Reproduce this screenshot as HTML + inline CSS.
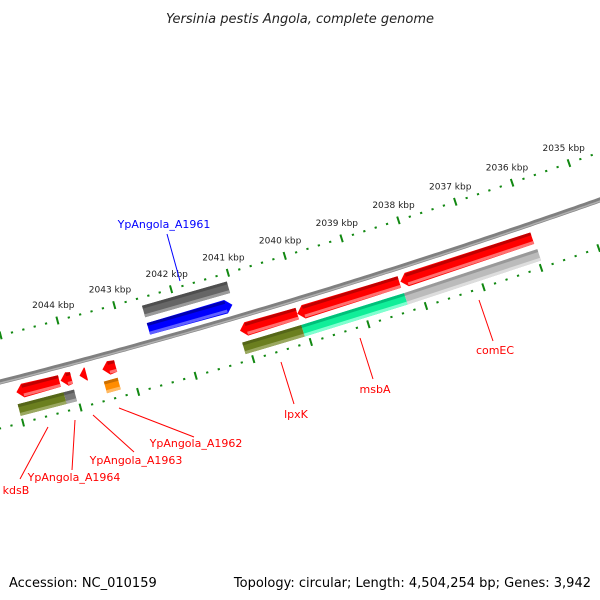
<!DOCTYPE html>
<html><head><meta charset="utf-8"><style>
body{margin:0;background:#fff}
svg{display:block;font-family:"DejaVu Sans","Liberation Sans",sans-serif}
</style></head><body>
<svg id="map" width="600" height="600" viewBox="0 0 600 600" xmlns="http://www.w3.org/2000/svg">
<rect width="600" height="600" fill="#fff"/>
<text x="300" y="23" text-anchor="middle" font-size="13" font-style="italic" fill="#222">Yersinia pestis Angola, complete genome</text>
<text x="9" y="587" font-size="13" fill="#000">Accession: NC_010159</text>
<text x="591" y="587" text-anchor="end" font-size="13" fill="#000">Topology: circular; Length: 4,504,254 bp; Genes: 3,942</text>
<g id="ticks"></g>
<g id="backbone"></g>
<g id="features"></g>
<g id="annots" font-size="11">
<line x1="167" y1="234" x2="180" y2="281" stroke="#00f"/>
<text x="164" y="228" text-anchor="middle" fill="#00f">YpAngola_A1961</text>
<line x1="281" y1="362" x2="294" y2="404" stroke="#f00"/>
<text x="296" y="418" text-anchor="middle" fill="#f00">lpxK</text>
<line x1="360" y1="338" x2="373" y2="379" stroke="#f00"/>
<text x="375" y="393" text-anchor="middle" fill="#f00">msbA</text>
<line x1="479" y1="300" x2="493" y2="341" stroke="#f00"/>
<text x="495" y="354" text-anchor="middle" fill="#f00">comEC</text>
<line x1="119" y1="408" x2="194" y2="437" stroke="#f00"/>
<text x="196" y="447" text-anchor="middle" fill="#f00">YpAngola_A1962</text>
<line x1="93" y1="415" x2="134" y2="452" stroke="#f00"/>
<text x="136" y="464" text-anchor="middle" fill="#f00">YpAngola_A1963</text>
<line x1="75" y1="420" x2="72" y2="470" stroke="#f00"/>
<text x="74" y="481" text-anchor="middle" fill="#f00">YpAngola_A1964</text>
<line x1="48" y1="427" x2="20" y2="479" stroke="#f00"/>
<text x="16" y="494" text-anchor="middle" fill="#f00">kdsB</text>
</g>
</svg>
<script>
const tickKbp=[2044,2043,2042,2041,2040,2039,2038,2037,2036,2035];
const featNames=["kdsB","A1964a","A1964b","A1963","lpxK","msbA","comEC","kdsB-domain","kdsB-tail","A1962-orange","lpxK-domain","msbA-domain","comEC-domain","A1961-gray","A1961"];
const featStart=[2044.98,2044.21,2043.88,2043.48,2041.08,2040.08,2038.28,2045.01,2044.21,2043.51,2041.10,2040.07,2038.28,2042.55,2042.55];
const featEnd=[2044.23,2044.02,2043.76,2043.25,2040.08,2038.30,2035.98,2044.21,2044.03,2043.27,2040.07,2038.28,2035.96,2041.06,2041.08];
const featRow=[1,1,1,1,1,1,1,2,2,2,2,2,2,-2,-1];
const featDir=[-1,-1,-1,-1,-1,-1,-1,0,0,0,0,0,0,0,1];
const featColor=["#ff0000","#ff0000","#ff0000","#ff0000","#ff0000","#ff0000","#ff0000","#6b7f1f","#777777","#ff8c00","#6b7f1f","#11ee99","#bbbbbb","#666666","#0000ff"];
const featDark=["#c00000","#c00000","#c00000","#c00000","#c00000","#c00000","#c00000","#556618","#5a5a5a","#cc6f00","#556618","#00c07a","#999999","#4e4e4e","#0000b0"];
const featLight=["#ff7070","#ff7070","#ff7070","#ff7070","#ff7070","#ff7070","#ff7070","#9aa860","#aaaaaa","#ffb860","#9aa860","#80ffd0","#dddddd","#9a9a9a","#6060ff"];
const rowOffset={"-2":-31,"-1":-13,"1":14,"2":32};
const NS="http://www.w3.org/2000/svg";
function yb(x){return 382-0.255*x-0.0000808*x*x;}
function slope(x){return -0.255-2*0.0000808*x;}
function kx(k){return 69+(2044-k)*57.2;}
function pt(k,off){const x0=kx(k),s=slope(x0),n=Math.sqrt(1+s*s);return [x0-s*off/n,yb(x0)+off/n];}
function P(a){return a.map(p=>p[0].toFixed(1)+","+p[1].toFixed(1)).join(" ");}
function poly(g,pts,fill){const e=document.createElementNS(NS,"polygon");e.setAttribute("points",P(pts));e.setAttribute("fill",fill);g.appendChild(e);return e;}
// backbone
const bb=document.getElementById("backbone");
let a=[],b=[],c=[];
for(let x=-5;x<=605;x+=5){a.push([x,yb(x)-3]);b.push([x,yb(x)+3]);}
const bpath=document.createElementNS(NS,"polyline");


bpath.setAttribute("points",P(a.map((p,i)=>[p[0],yb(p[0])])));
bpath.setAttribute("fill","none");bpath.setAttribute("stroke","#808080");bpath.setAttribute("stroke-width","5");
bb.appendChild(bpath);
const bhi=document.createElementNS(NS,"polyline");


bhi.setAttribute("points",P(a.map(p=>[p[0],yb(p[0])+1.2])));
bhi.setAttribute("fill","none");bhi.setAttribute("stroke","#b0b0b0");bhi.setAttribute("stroke-width","1.5");
bb.appendChild(bhi);
// ticks
const tg=document.getElementById("ticks");
[-45,45].forEach(off=>{
  for(let i=0;i<=55;i++){
    const k=2034.6+i*0.2;
    const major=Math.abs(k-Math.round(k))<0.01;
    const p1=pt(k,off-(major?4:1)),p2=pt(k,off+(major?4:1));
    const l=document.createElementNS(NS,"line");
    
    
    l.setAttribute("x1",p1[0]);l.setAttribute("y1",p1[1]);l.setAttribute("x2",p2[0]);l.setAttribute("y2",p2[1]);
    l.setAttribute("stroke","#118811");l.setAttribute("stroke-width",major?"2":"2.2");
    tg.appendChild(l);
  }
});
tickKbp.forEach(k=>{
  const p=pt(k,-61);
  const t=document.createElementNS(NS,"text");
  
  
  t.setAttribute("x",p[0]);t.setAttribute("y",p[1]+3);
  t.setAttribute("text-anchor","middle");t.setAttribute("font-size","9");t.setAttribute("fill","#222");
  t.textContent=k+" kbp";tg.appendChild(t);
});
// features
const fg=document.getElementById("features");
featNames.forEach((nm,i)=>{
  const g=document.createElementNS(NS,"g");
  
  
  const off=rowOffset[featRow[i]],h=12,k1=featStart[i],k2=featEnd[i],d=featDir[i];
  const ah=0.11;
  let L=k1,R=k2;
  if(d<0)L=Math.max(k1-ah,k2); if(d>0)R=Math.min(k2+ah,k1);
  let pts;
  if(d<0){pts=[pt(k1,off),pt(L,off-h/2-1),pt(R,off-h/2),pt(R,off+h/2),pt(L,off+h/2+1)];}
  else if(d>0){pts=[pt(L,off-h/2),pt(R,off-h/2-1),pt(k2,off),pt(R,off+h/2+1),pt(L,off+h/2)];}
  else{pts=[pt(L,off-h/2),pt(R,off-h/2),pt(R,off+h/2),pt(L,off+h/2)];}
  poly(g,pts,featColor[i]);
  if(Math.abs(L-R)>0.02){
    poly(g,[pt(L,off-h/2),pt(R,off-h/2),pt(R,off-h/2+3),pt(L,off-h/2+3)],featDark[i]);
    poly(g,[pt(L,off+h/2-3),pt(R,off+h/2-3),pt(R,off+h/2),pt(L,off+h/2)],featLight[i]);
  }
  fg.appendChild(g);
});
</script>
</body></html>
